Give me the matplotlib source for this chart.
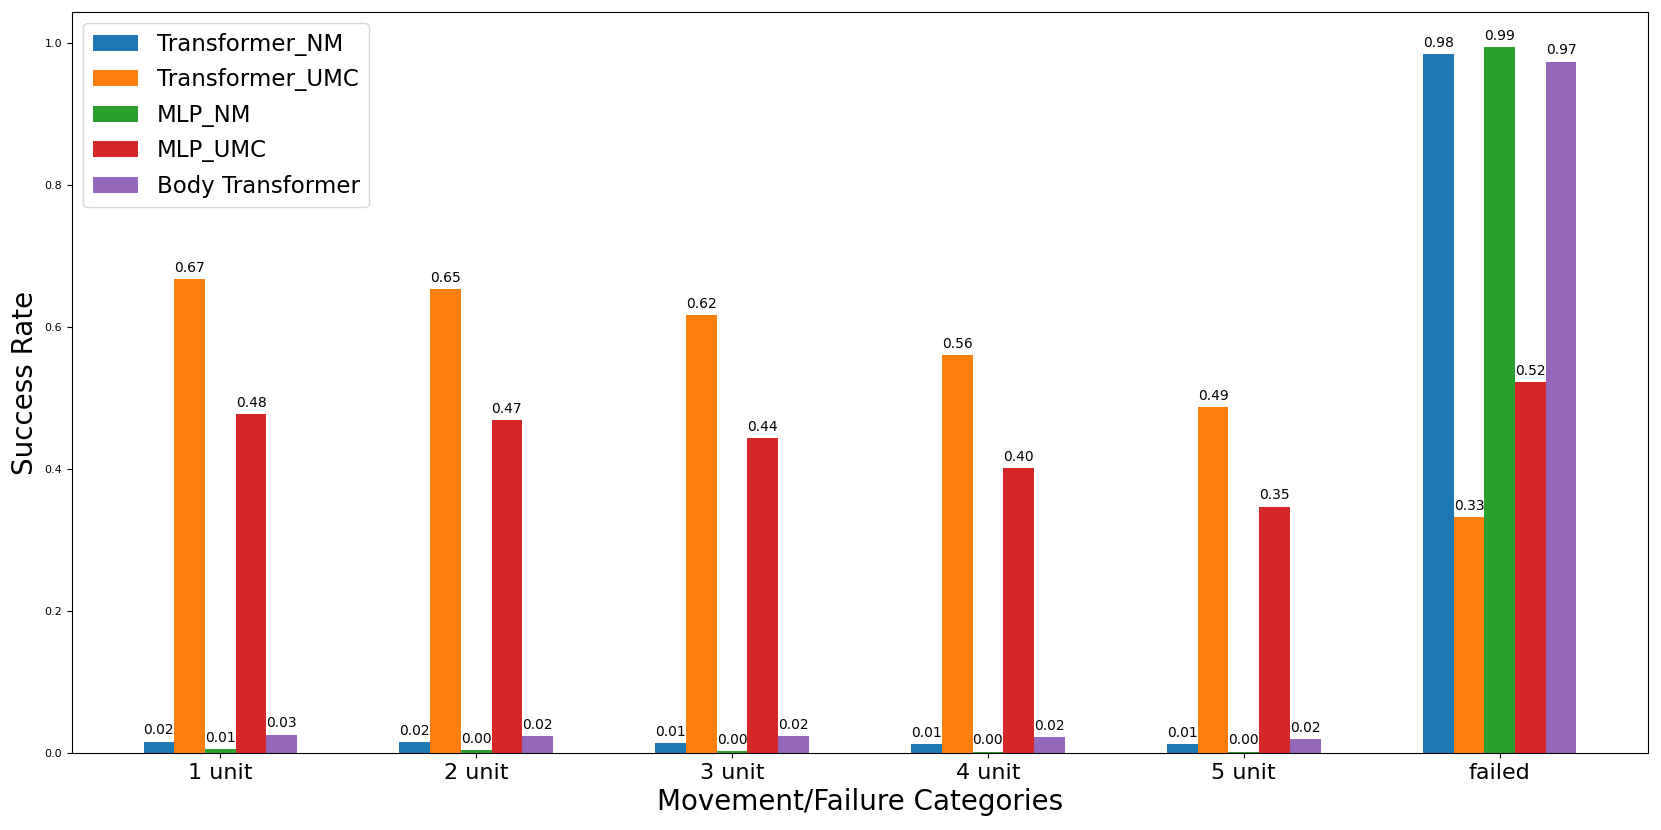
import matplotlib.pyplot as plt
import numpy as np

# categorias e valores
categories = ["1 unit", "2 unit", "3 unit", "4 unit", "5 unit", "failed"]
models = ["Transformer_NM", "Transformer_UMC", "MLP_NM", "MLP_UMC", "Body Transformer"]

transformer_nm = [0.016, 0.0155, 0.014, 0.013, 0.012, 0.984]
transformer_umc = [0.668, 0.654, 0.617, 0.561, 0.487, 0.332]
mlp_nm = [0.006, 0.004, 0.003, 0.002, 0.002, 0.994]
mlp_umc = [0.477, 0.469, 0.443, 0.401, 0.347, 0.522]
body_transformer = [0.026, 0.024, 0.024, 0.022, 0.019, 0.974]

series = [transformer_nm, transformer_umc, mlp_nm, mlp_umc, body_transformer]

fig, ax = plt.subplots(figsize=(16.61, 8.3), dpi=100)
plt.subplots_adjust(left=0.0433, right=0.9922, top=0.9855, bottom=0.0928)

x = np.arange(len(categories))
width = 0.12

for i, (name, vals) in enumerate(zip(models, series)):
    bars = ax.bar(x + (i - 2) * width, vals, width, label=name)
    for b in bars:
        h = b.get_height()
        ax.annotate(f"{h:.2f}", xy=(b.get_x() + b.get_width() / 2, h),
                    xytext=(0, 3), textcoords="offset points",
                    ha="center", va="bottom", fontsize=10)

ax.set_xticks(x)
ax.set_xticklabels(categories, fontsize=16)
ax.tick_params(axis="y", labelsize=8)
ax.set_xlabel("Movement/Failure Categories", fontsize=20)
ax.set_ylabel("Success Rate", fontsize=20)
ax.legend(loc="upper left", fontsize=16.5, labelspacing=0.55)

plt.savefig("out.png", dpi=100)
